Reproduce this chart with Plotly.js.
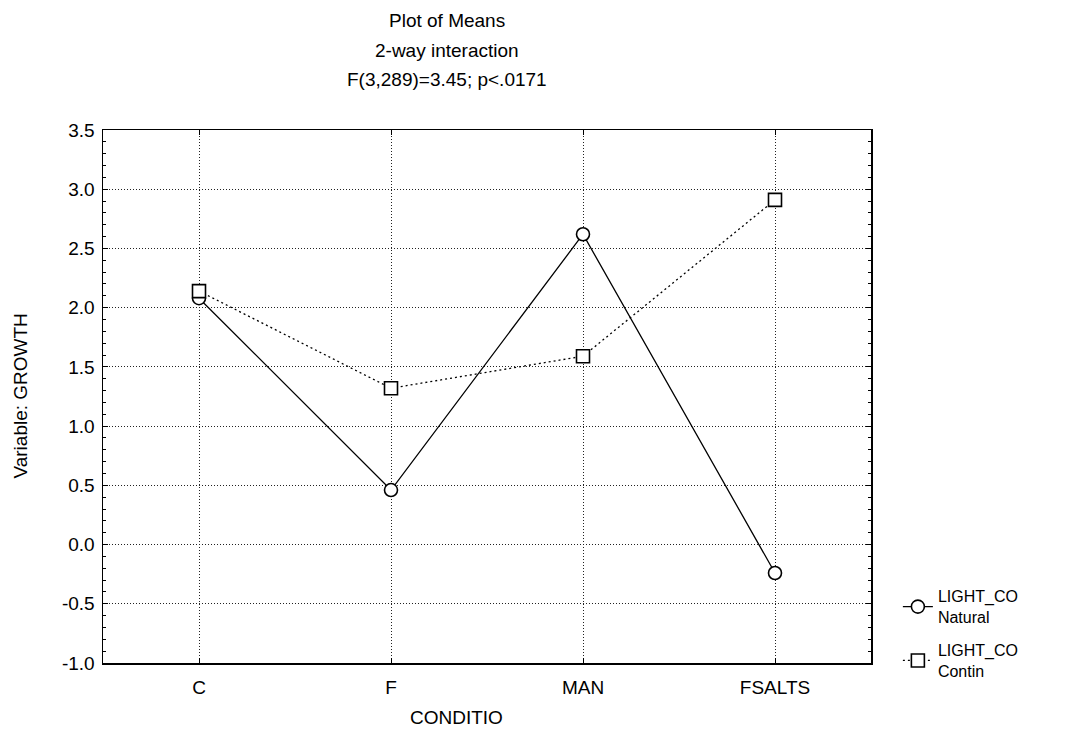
<!DOCTYPE html>
<html>
<head>
<meta charset="utf-8">
<script src="https://cdn.plot.ly/plotly-3.0.1.min.js"></script>
<style>html,body{margin:0;padding:0;background:#fff;}#chart{width:1082px;height:738px;}</style>
</head>
<body>
<div id="chart"></div>
<script>
const categories = ["C", "F", "MAN", "FSALTS"];
const natural = [2.08, 0.46, 2.62, -0.24];
const contin = [2.14, 1.32, 1.59, 2.91];
const seriesNames = ["LIGHT_CO<br>Natural", "LIGHT_CO<br>Contin"];
const titleLines = ["Plot of Means", "2-way interaction", "F(3,289)=3.45; p<.0171"];
const xTitle = "CONDITIO";
const yTitle = "Variable: GROWTH";
const yTickVals = [-1.0, -0.5, 0.0, 0.5, 1.0, 1.5, 2.0, 2.5, 3.0, 3.5];
const yTickText = yTickVals.map(v => v.toFixed(1));

const FONT = "Liberation Sans, Arial, sans-serif";
const FS = 19;
const LFS = 16;

const traces = [
  {
    x: categories, y: natural, name: seriesNames[0], type: "scatter", mode: "lines+markers",
    legend: "legend",
    line: {color: "#000", width: 1.3, dash: "solid"},
    marker: {symbol: "circle", size: 13, color: "#fff", line: {width: 1.6, color: "#000"}}
  },
  {
    x: categories, y: contin, name: seriesNames[1], type: "scatter", mode: "lines+markers",
    legend: "legend2",
    line: {color: "#000", width: 1.3, dash: "2px,3px"},
    marker: {symbol: "square", size: 13, color: "#fff", line: {width: 1.6, color: "#000"}}
  }
];

const titleY = [1.206, 1.150, 1.094];
const annotations = titleLines.map((t, i) => ({
  text: t, xref: "paper", yref: "paper", x: 0.448, y: titleY[i],
  xanchor: "center", yanchor: "middle", showarrow: false,
  font: {family: FONT, size: FS, color: "#000"}
}));
annotations.push({
  text: xTitle, xref: "paper", yref: "paper", x: 0.46, y: -0.103,
  xanchor: "center", yanchor: "middle", showarrow: false,
  font: {family: FONT, size: FS, color: "#000"}
});
annotations.push({
  text: yTitle, xref: "paper", yref: "paper", x: -0.108, y: 0.5, textangle: -90,
  xanchor: "center", yanchor: "middle", showarrow: false,
  font: {family: FONT, size: FS, color: "#000"}
});

const legendBase = {xanchor: "left", yanchor: "top",
  font: {family: FONT, size: LFS, color: "#000"}, itemwidth: 30, bgcolor: "rgba(0,0,0,0)"};

const layout = {
  width: 1082, height: 738,
  margin: {l: 103, r: 211, t: 130, b: 75},
  paper_bgcolor: "#fff", plot_bgcolor: "#fff",
  font: {family: FONT, size: FS, color: "#000"},
  showlegend: true,
  legend: Object.assign({x: 1.035, y: 0.157}, legendBase),
  legend2: Object.assign({x: 1.035, y: 0.056}, legendBase),
  annotations: annotations,
  xaxis: {
    type: "category", range: [-0.5, 3.5],
    showline: true, linecolor: "#000", linewidth: 1.5, mirror: "ticks",
    ticks: "inside", ticklen: 5, tickcolor: "#000",
    showgrid: true, gridcolor: "#222", griddash: "1px,2px", gridwidth: 1,
    zeroline: false, ticklabelstandoff: 7,
    tickfont: {family: FONT, size: FS, color: "#000"}
  },
  yaxis: {
    range: [-1.0, 3.5],
    tickvals: yTickVals, ticktext: yTickText,
    showline: true, linecolor: "#000", linewidth: 1.5, mirror: "allticks",
    ticks: "inside", ticklen: 5, tickcolor: "#000",
    minor: {dtick: 0.1, ticks: "inside", ticklen: 3, tickcolor: "#000", showgrid: false},
    showgrid: true, gridcolor: "#222", griddash: "1px,2px", gridwidth: 1,
    zeroline: false, ticklabelstandoff: 3,
    tickfont: {family: FONT, size: FS, color: "#000"}
  }
};

Plotly.newPlot("chart", traces, layout, {displayModeBar: false, staticPlot: true});
</script>
</body>
</html>
